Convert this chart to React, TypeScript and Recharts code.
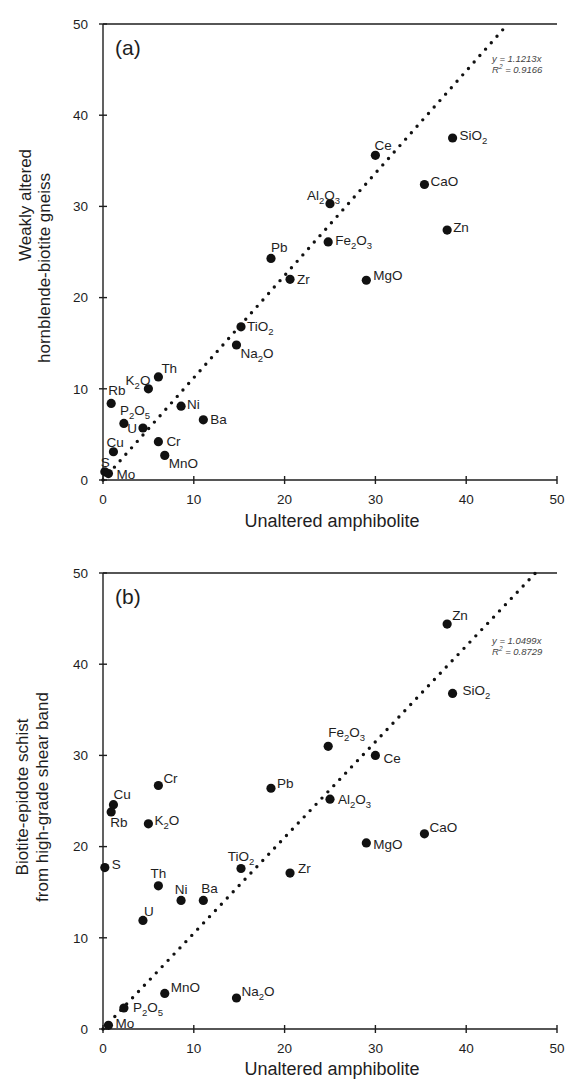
import React from 'react';
import { ScatterChart, Scatter, XAxis, YAxis, ReferenceLine } from 'recharts';

// oxides / elements, same order in every value list
const elements = [
  'SiO2', 'TiO2', 'Al2O3', 'Fe2O3', 'MnO', 'MgO', 'CaO', 'Na2O', 'K2O', 'P2O5',
  'Ba', 'Ce', 'Cr', 'Cu', 'Mo', 'Ni', 'Pb', 'Rb', 'S', 'Th', 'U', 'Zn', 'Zr',
];
// x: unaltered amphibolite
const unaltered = [
  38.5, 15.2, 25.0, 24.8, 6.8, 29.0, 35.4, 14.7, 5.0, 2.3,
  11.05, 30.0, 6.1, 1.15, 0.6, 8.6, 18.5, 0.9, 0.2, 6.1, 4.4, 37.9, 20.6,
];
// y (a): weakly altered hornblende-biotite gneiss
const weaklyAltered = [
  37.5, 16.8, 30.3, 26.1, 2.7, 21.9, 32.4, 14.8, 10.0, 6.2,
  6.6, 35.6, 4.2, 3.1, 0.7, 8.1, 24.3, 8.4, 0.9, 11.3, 5.7, 27.4, 22.0,
];
// y (b): biotite-epidote schist from high-grade shear band
const shearBand = [
  36.8, 17.6, 25.2, 31.0, 3.9, 20.4, 21.4, 3.4, 22.5, 2.3,
  14.1, 30.0, 26.7, 24.6, 0.4, 14.1, 26.4, 23.8, 17.7, 15.7, 11.9, 44.4, 17.1,
];
const axisTicks = [0, 10, 20, 30, 40, 50];
const slopeA = 1.1213;
const r2A = '0.9166';
const slopeB = 1.0499;
const r2B = '0.8729';

const pointsA = elements.map((name, i) => ({ name, x: unaltered[i], y: weaklyAltered[i] }));
const pointsB = elements.map((name, i) => ({ name, x: unaltered[i], y: shearBand[i] }));
const fitA = [{ x: 0, y: 0 }, { x: 50 / slopeA, y: 50 }];
const fitB = [{ x: 0, y: 0 }, { x: 50 / slopeB, y: 50 }];

// label placement: [dx, dy (baseline), anchor]
type Place = [number, number, string?];
const placeA: Record<string, Place> = {
  SiO2: [7, 2], TiO2: [6, 4], Al2O3: [10, -4, 'end'], Fe2O3: [7, 3], MnO: [4, 13],
  MgO: [7, 0], CaO: [6, 1], Na2O: [4, 13], K2O: [2, -4, 'end'], P2O5: [-4, -8],
  Ba: [7, 4], Ce: [-1, -5], Cr: [8, 4], Cu: [-7, -5], Mo: [8, 5], Ni: [6, 3],
  Pb: [0, -6], Rb: [-3, -8], S: [-4, -5], Th: [3, -4], U: [-6, 5, 'end'], Zn: [6, 2], Zr: [7, 5],
};
const placeB: Record<string, Place> = {
  SiO2: [10, 2], TiO2: [0, -7, 'middle'], Al2O3: [8, 5], Fe2O3: [0, -9], MnO: [6, -1],
  MgO: [7, 6], CaO: [5, -2], Na2O: [5, -2], K2O: [6, 1], P2O5: [9, 4],
  Ba: [-2, -7], Ce: [8, 8], Cr: [5, -2], Cu: [0, -6], Mo: [7, 3], Ni: [0, -6, 'middle'],
  Pb: [6, 0], Rb: [-1, 15], S: [7, 1], Th: [0, -8, 'middle'], U: [1, -4], Zn: [5, -4], Zr: [8, 0],
};

const FONT = '"Liberation Sans", Arial, Helvetica, sans-serif';
const INK = '#1e1e1e';

// digits become subscripts (SiO2 -> SiO₂)
const ChemText = ({ x, y, name, anchor }: { x: number; y: number; name: string; anchor: string }) => {
  const parts = name.split(/(\d+)/).filter(Boolean);
  let sub = false;
  return (
    <text x={x} y={y} textAnchor={anchor as any} fontSize={13.5} fontFamily={FONT} fill={INK}>
      {parts.map((p, i) => {
        const isNum = /\d/.test(p);
        const dy = isNum ? 4 : sub ? -4 : 0;
        sub = isNum;
        return (
          <tspan key={i} dy={dy} fontSize={isNum ? 9.5 : 13.5}>{p}</tspan>
        );
      })}
    </text>
  );
};

const makeShape = (place: Record<string, Place>) => (props: any) => {
  const { cx, cy, payload } = props;
  const [dx, dy, anchor = 'start'] = place[payload.name] || [6, 4];
  return (
    <g>
      <circle cx={cx} cy={cy} r={4.6} fill="#111" />
      <ChemText x={cx + dx} y={cy + dy} name={payload.name} anchor={anchor} />
    </g>
  );
};

const noShape = () => <g />;

const tickStyle = { fill: INK, fontSize: 13.5, fontFamily: FONT };
const axisLine = { stroke: INK, strokeWidth: 1.4 };

const Panel = ({ points, fit, place, height, bottom }: any) => (
  <ScatterChart width={569} height={height} margin={{ top: 24, right: 12, bottom, left: 43 }}>
    <XAxis type="number" dataKey="x" domain={[0, 50]} ticks={axisTicks} interval={0}
      height={40} tick={tickStyle} axisLine={axisLine} tickSize={8} tickMargin={6}
      tickLine={{ stroke: INK, strokeWidth: 1.4, transform: 'translate(0,-4)' } as any} />
    <YAxis type="number" dataKey="y" domain={[0, 50]} ticks={axisTicks} interval={0}
      width={60} tick={tickStyle} axisLine={axisLine} tickSize={8} tickMargin={7}
      tickLine={{ stroke: INK, strokeWidth: 1.4, transform: 'translate(4,0)' } as any} />
    <ReferenceLine y={50} stroke={INK} strokeWidth={1.4} />
    <Scatter data={fit} shape={noShape} isAnimationActive={false} legendType="none"
      line={{ stroke: '#111', strokeWidth: 3.4, strokeDasharray: '0 8.6', strokeLinecap: 'round' } as any} />
    <Scatter data={points} shape={makeShape(place)} isAnimationActive={false} />
  </ScatterChart>
);

const Eq = ({ x, y, slope, r2 }: any) => (
  <g fontFamily={FONT} fontStyle="italic" fontSize={9.5} fill="#444">
    <text x={x} y={y}>{`y = ${slope}x`}</text>
    <text x={x} y={y + 11}>
      R<tspan dy={-4} fontSize={6.5}>2</tspan><tspan dy={4}> = {r2}</tspan>
    </text>
  </g>
);

const YTitle = ({ x, cy, text, fs = 17 }: any) => (
  <text transform={`translate(${x},${cy}) rotate(-90)`} textAnchor="middle"
    fontFamily={FONT} fontSize={fs} fill={INK}>{text}</text>
);

export default function App() {
  return (
    <div style={{ position: 'absolute', left: 0, top: 0, width: 569, height: 1083, overflow: 'hidden', background: '#fff' }}>
      <div style={{ position: 'absolute', left: 0, top: 0 }}>
        <Panel points={pointsA} fit={fitA} place={placeA} height={545} bottom={25} />
      </div>
      <div style={{ position: 'absolute', left: 0, top: 549 }}>
        <Panel points={pointsB} fit={fitB} place={placeB} height={534} bottom={14} />
      </div>
      <svg width={569} height={1083} style={{ position: 'absolute', left: 0, top: 0, pointerEvents: 'none' }}>
        <text x={115} y={55} fontFamily={FONT} fontSize={21} fill={INK}>(a)</text>
        <text x={115} y={604} fontFamily={FONT} fontSize={21} fill={INK}>(b)</text>
        <Eq x={492} y={62} slope={slopeA} r2={r2A} />
        <Eq x={492} y={644} slope={slopeB} r2={r2B} />
        <text x={332} y={527} textAnchor="middle" fontFamily={FONT} fontSize={18} fill={INK}>Unaltered amphibolite</text>
        <text x={332} y={1075} textAnchor="middle" fontFamily={FONT} fontSize={18} fill={INK}>Unaltered amphibolite</text>
        <YTitle x={31} cy={205} text="Weakly altered" />
        <YTitle x={50} cy={268} text="hornblende-biotite gneiss" />
        <YTitle x={28} cy={797} text="Biotite-epidote schist" />
        <YTitle x={48} cy={797} text="from high-grade shear band" />
      </svg>
    </div>
  );
}
